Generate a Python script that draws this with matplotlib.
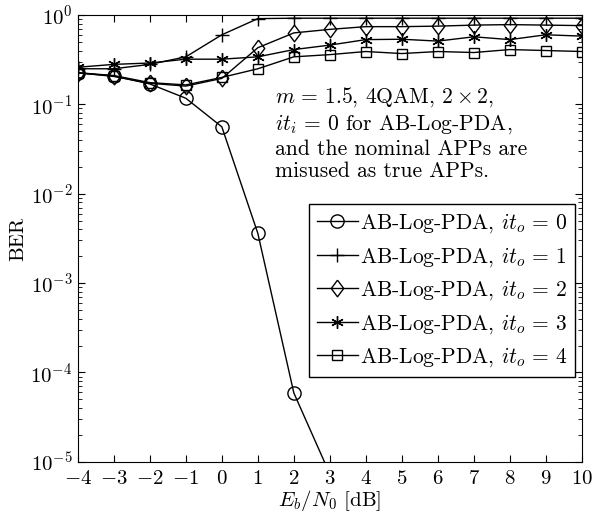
import numpy as np
import matplotlib
matplotlib.use('Agg')
import matplotlib.pyplot as plt

plt.rcParams['font.family'] = 'serif'
plt.rcParams['font.serif'] = ['cmr10']
plt.rcParams['mathtext.fontset'] = 'cm'
plt.rcParams['axes.formatter.use_mathtext'] = True

# Eb/N0 grid and BER curves
ebn0 = np.arange(-4, 11)
ber_it0 = [0.224, 0.208, 0.169, 0.117, 0.056, 0.0036, 5.9e-5, 7.3e-6]
ber_it1 = [0.25, 0.25, 0.28, 0.34, 0.60, 0.91, 0.92, 0.92, 0.92, 0.92, 0.92, 0.92, 0.92, 0.92, 0.92]
ber_it2 = [0.226, 0.205, 0.172, 0.160, 0.195, 0.43, 0.63, 0.69, 0.74, 0.74, 0.75, 0.77, 0.78, 0.77, 0.76]
ber_it3 = [0.26, 0.28, 0.29, 0.32, 0.32, 0.34, 0.41, 0.46, 0.53, 0.535, 0.51, 0.57, 0.53, 0.60, 0.58]
ber_it4 = [0.226, 0.21, 0.175, 0.165, 0.20, 0.25, 0.34, 0.36, 0.39, 0.37, 0.39, 0.38, 0.41, 0.40, 0.39]

labels = [r'AB-Log-PDA, $it_o\,=\,%d$' % i for i in range(5)]

# matlab-style diamond (a bit taller than wide)
diamond = [(0, 1), (0.75, 0), (0, -1), (-0.75, 0), (0, 1)]

fig = plt.figure(figsize=(6.08, 5.16), dpi=100)
ax = fig.add_axes([0.128, 0.105, 0.829, 0.866])

style = dict(color='black', lw=1.0, mfc='none', mec='black', mew=1.0)
ax.semilogy(ebn0[:len(ber_it0)], ber_it0, marker='o', ms=9.5, label=labels[0], **style)
ax.semilogy(ebn0, ber_it1, marker='+', ms=10, label=labels[1], **style)
ax.semilogy(ebn0, ber_it2, marker=diamond, ms=12, label=labels[2], **style)
ax.semilogy(ebn0, ber_it3, marker=(6, 2, 0), ms=9, label=labels[3], **style)
ax.semilogy(ebn0, ber_it4, marker='s', ms=7, label=labels[4], **style)

ax.set_xlim(-4, 10)
ax.set_ylim(1e-5, 1)
ax.set_xticks(range(-4, 11))
ax.tick_params(direction='in', which='both', top=True, right=True, labelsize=15)
ax.tick_params(axis='x', pad=6)
ax.tick_params(axis='y', pad=4)
ax.tick_params(which='major', length=5)
ax.tick_params(which='minor', length=3)
ax.set_xlabel(r'$E_b/N_0$ [dB]', fontsize=15, labelpad=0)
ax.set_ylabel('BER', fontsize=15)
ax.yaxis.set_label_coords(-0.1, 0.5)

ax.text(0.391, 0.843,
        '$m\\,=\\,1.5$, 4QAM, $2\\times 2$,\n$it_i\\,=\\,0$ for AB-Log-PDA,\nand the nominal APPs are\nmisused as true APPs.',
        transform=ax.transAxes, fontsize=15.5, va='top', ha='left', linespacing=1.2)

leg = ax.legend(loc='upper right', bbox_to_anchor=(0.986, 0.577), fontsize=15.5,
                fancybox=False, edgecolor='black', framealpha=1,
                handlelength=1.9, handletextpad=0.1, borderpad=0.35, labelspacing=0.45,
                borderaxespad=0)
leg.get_frame().set_linewidth(1.0)

fig.savefig('out.png', dpi=100)
